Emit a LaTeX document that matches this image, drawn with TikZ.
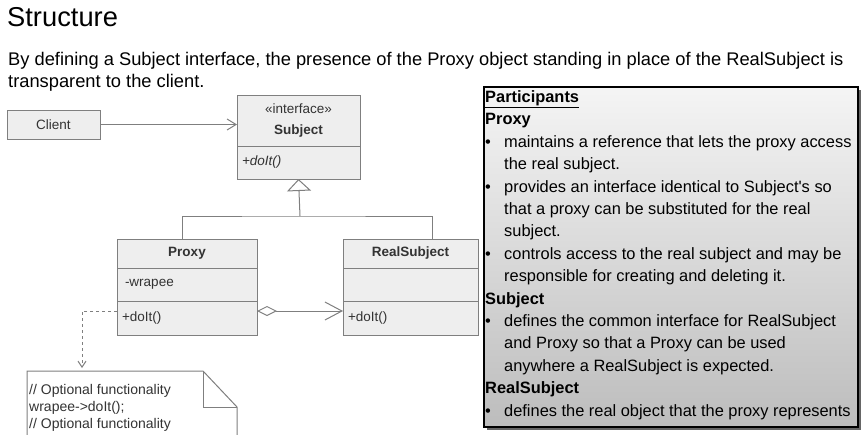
\documentclass[tikz,border=0pt]{standalone}
\usepackage{fontspec}
\setmainfont{Liberation Sans}
\usetikzlibrary{arrows.meta,positioning,shadows}

\newcommand{\blt}{\makebox[19pt][l]{\textbullet}}
\newcommand{\ind}{\hspace*{19pt}}

\begin{document}
\begin{tikzpicture}[x=1pt,y=-1pt]
  % Colours of the class diagram.
  \definecolor{umlline}{HTML}{7F7F7F}
  \definecolor{umlfill}{HTML}{EEEEEE}
  \definecolor{umltext}{HTML}{333333}
  \useasboundingbox (0,0) rectangle (862,434);
  \clip (0,0) rectangle (862,434);

  \tikzset{
    cls/.style={draw=umlline, fill=umlfill, line width=1pt, text=umltext,
      font=\fontsize{13.5}{16}\selectfont, inner sep=0pt, outer sep=0pt},
    clshead/.style={cls, minimum width=#1, minimum height=29pt, align=center},
    clspart/.style={cls, text width=#1-10pt, inner xsep=5pt, align=left, minimum height=33pt},
    conn/.style={draw=umlline, line width=1pt},
  }

  \node[anchor=base west, inner sep=0pt, font=\fontsize{27.3}{30}\selectfont] (title) at (7,26) {Structure};
  \node[anchor=north west, inner sep=0pt, align=left, font=\fontsize{18.3}{22}\selectfont] (intro) at (8,52.5)
    {By defining a Subject interface, the presence of the Proxy object standing in place of the RealSubject is\\
     transparent to the client.};

  % Classes.
  \node[clshead=93pt, fill=umlfill] (client) at (53.5,124.5) {Client};
  \node[clshead=123pt, minimum height=51pt] (subject) at (298.5,120.5)
    {«interface»\\[5pt]\textbf{Subject}};
  \node[clspart=123pt, below=0pt of subject] (subjectops) {\textit{+doIt()}};

  \node[clshead=140pt] (proxy) at (187,253.5) {\textbf{Proxy}};
  \node[clspart=140pt, below=0pt of proxy] (proxyattr) {\hspace*{3pt}-wrapee};
  \node[clspart=140pt, minimum height=34pt, below=0pt of proxyattr] (proxyops) {+doIt()};

  \node[clshead=135pt] (real) at (410.5,253.5) {\textbf{RealSubject}};
  \node[clspart=135pt, below=0pt of real] (realattr) {};
  \node[clspart=135pt, minimum height=34pt, below=0pt of realattr] (realops) {+doIt()};

  % Relations.
  \coordinate (fork) at (300,216);
  \coordinate (notetip) at (82,368);
  \draw[conn, -{Straight Barb[length=9pt,width=11pt]}] (client.east) -- (client.east -| subject.west);
  \draw[conn, -{Triangle[open,length=12pt,width=24pt,fill=white]}] (fork) -- (subjectops.south);
  \draw[conn] ([xshift=-5pt]proxy.north) |- (fork) -| ([xshift=21.5pt]real.north);
  \draw[conn, {Diamond[open,length=20pt,width=10pt,fill=white]}-{Straight Barb[length=17pt,width=18pt]}]
    ([yshift=7pt]proxyops.east) -- ([yshift=7pt]realops.west);
  \draw[conn, dashed, -{Straight Barb[length=6pt,width=8pt]}] ([yshift=7pt]proxyops.west) -| (notetip);

  % Note with folded corner.
  \draw[conn, fill=white] (27,440) -- (27,371) -- (203,371) -- (237,407) -- (237,440);
  \draw[conn] (203,371) -- (203,407) -- (237,407);
  \node[anchor=north west, inner sep=0pt, align=left, text=umltext,
    font=\fontsize{14}{17}\selectfont] (note) at (29,384)
    {// Optional functionality\\wrapee->doIt();\\// Optional functionality};

  % Participants panel.
  \node[anchor=north west, draw=black, line width=1.5pt, minimum width=374pt, minimum height=340pt,
    top color=black!4, bottom color=black!26,
    drop shadow={shadow xshift=3pt, shadow yshift=-3pt, fill=black!60, opacity=1}] (panel) at (483,86) {};
  \node[anchor=north west, inner sep=0pt, align=left, font=\fontsize{16.4}{22.4}\selectfont] (parts) at (485,90.5)
    {\underline{\textbf{Participants}}\\
     \textbf{Proxy}\\
     \blt maintains a reference that lets the proxy access\\
     \ind the real subject.\\
     \blt provides an interface identical to Subject\textquotesingle s so\\
     \ind that a proxy can be substituted for the real\\
     \ind subject.\\
     \blt controls access to the real subject and may be\\
     \ind responsible for creating and deleting it.\\
     \textbf{Subject}\\
     \blt defines the common interface for RealSubject\\
     \ind and Proxy so that a Proxy can be used\\
     \ind anywhere a RealSubject is expected.\\
     \textbf{RealSubject}\\
     \blt defines the real object that the proxy represents};
\end{tikzpicture}
\end{document}
